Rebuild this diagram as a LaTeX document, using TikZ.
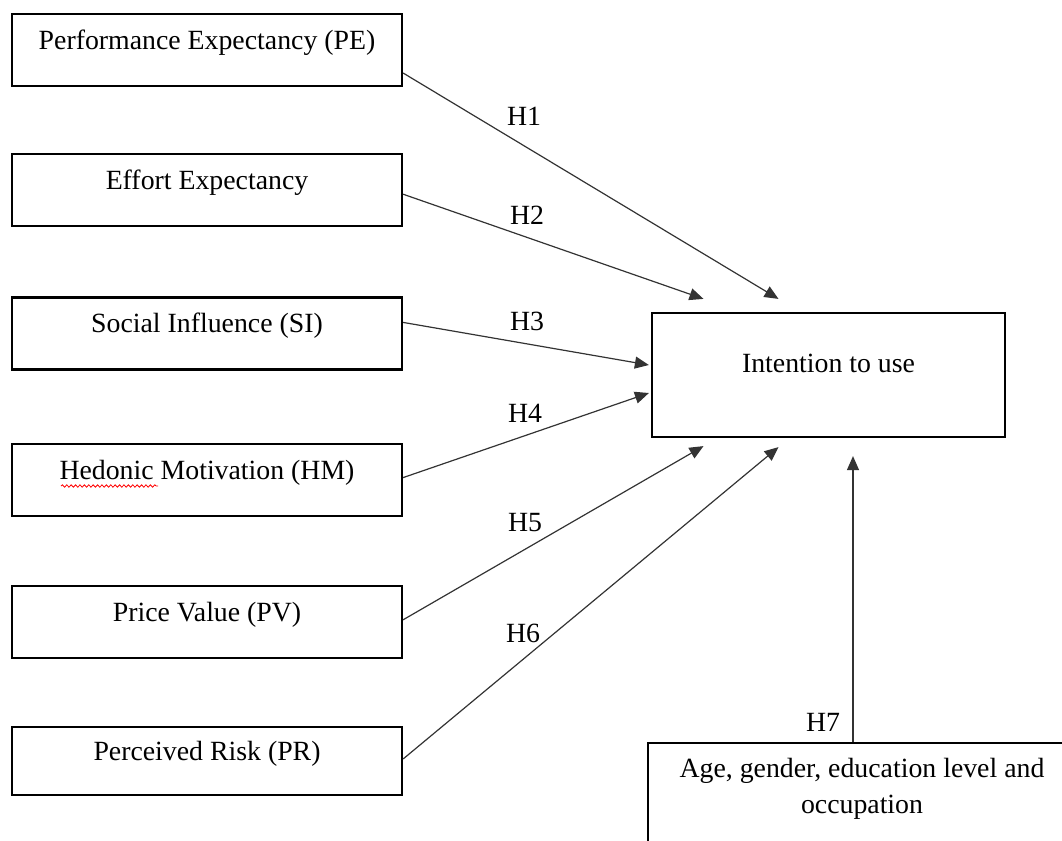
\documentclass[tikz,border=0pt]{standalone}
\usepackage{fontspec}
\setmainfont{Liberation Serif}
\usepackage{tikz}
\usetikzlibrary{arrows.meta, positioning, decorations.pathmorphing}

\begin{document}
\begin{tikzpicture}[
  x=0.5pt, y=-0.5pt,
  node distance=34pt,
  txt/.style={font=\fontsize{13.9}{18}\selectfont},
  factor/.style={txt, draw, line width=1.1pt, minimum width=195pt, minimum height=36pt,
                 text height=9.5pt, text depth=10pt},
  target/.style={txt, draw, line width=1.1pt, minimum width=176.5pt, minimum height=62pt,
                 text height=9.5pt, text depth=12.5pt},
  control/.style={txt, draw, line width=1.1pt, minimum width=214pt, align=center,
                  inner ysep=7.5pt, text depth=40pt},
  arr/.style={-{Triangle[length=7pt, width=6pt]}, line width=0.6pt, black!80},
  lbl/.style={txt, inner sep=0pt}
]
\useasboundingbox (0,0) rectangle (1062,841);
\clip (0,0) rectangle (1062,841);

% Predictors (left column)
\node[factor] (pe) at (207,50) {Performance Expectancy (PE)};
\node[factor, below=33pt of pe] (ee) {Effort Expectancy};
\node[factor, below=34.5pt of ee] (si) {Social Influence (SI)};
\node[factor, below=36pt of si] (hm) {Hedonic Motivation (HM)};
\node[factor, below=34pt of hm] (pv) {Price Value (PV)};
\node[factor, below=33.5pt of pv, minimum height=34pt] (pr) {Perceived Risk (PR)};

% Outcome and moderators
\node[target] (intent) at (828.5,375) {Intention to use};
\node[control, anchor=north] (age) at (862,742) {Age, gender, education level and\\occupation};

% Arrow ends
\coordinate (t1) at ([shift={(-25pt,6.5pt)}]intent.north);
\coordinate (t2) at ([shift={(-62.5pt,6.5pt)}]intent.north);
\coordinate (t3) at ([shift={(-1pt,5pt)}]intent.west);
\coordinate (t4) at ([shift={(-1pt,-9pt)}]intent.west);
\coordinate (t5) at ([shift={(-62.5pt,-4pt)}]intent.south);
\coordinate (t6) at ([shift={(-25pt,-4.5pt)}]intent.south);
\coordinate (t7) at ([shift={(12.25pt,-9pt)}]intent.south);

% Arrows
\draw[arr] ([yshift=-11.5pt]pe.east) -- (t1);
\draw[arr] ([yshift=-2pt]ee.east) -- (t2);
\draw[arr] ([yshift=5.5pt]si.east) -- (t3);
\draw[arr] ([yshift=1pt]hm.east) -- (t4);
\draw[arr] ([yshift=1pt]pv.east) -- (t5);
\draw[arr] ([yshift=1pt]pr.east) -- (t6);
\draw[arr] ([xshift=-4.5pt]age.north) -- (t7);

% Labels
\node[lbl] (l1) at (524,116) {H1};
\node[lbl] (l2) at (527,215) {H2};
\node[lbl] (l3) at (527,321) {H3};
\node[lbl] (l4) at (525,413) {H4};
\node[lbl] (l5) at (525,523) {H5};
\node[lbl] (l6) at (523,633) {H6};
\node[lbl] (l7) at (823,722) {H7};

% spell-check squiggle
\draw[red, line width=0.4pt, decorate, decoration={snake, amplitude=0.6pt, segment length=2.2pt}]
  (61,486) -- (158,486);

\end{tikzpicture}
\end{document}
